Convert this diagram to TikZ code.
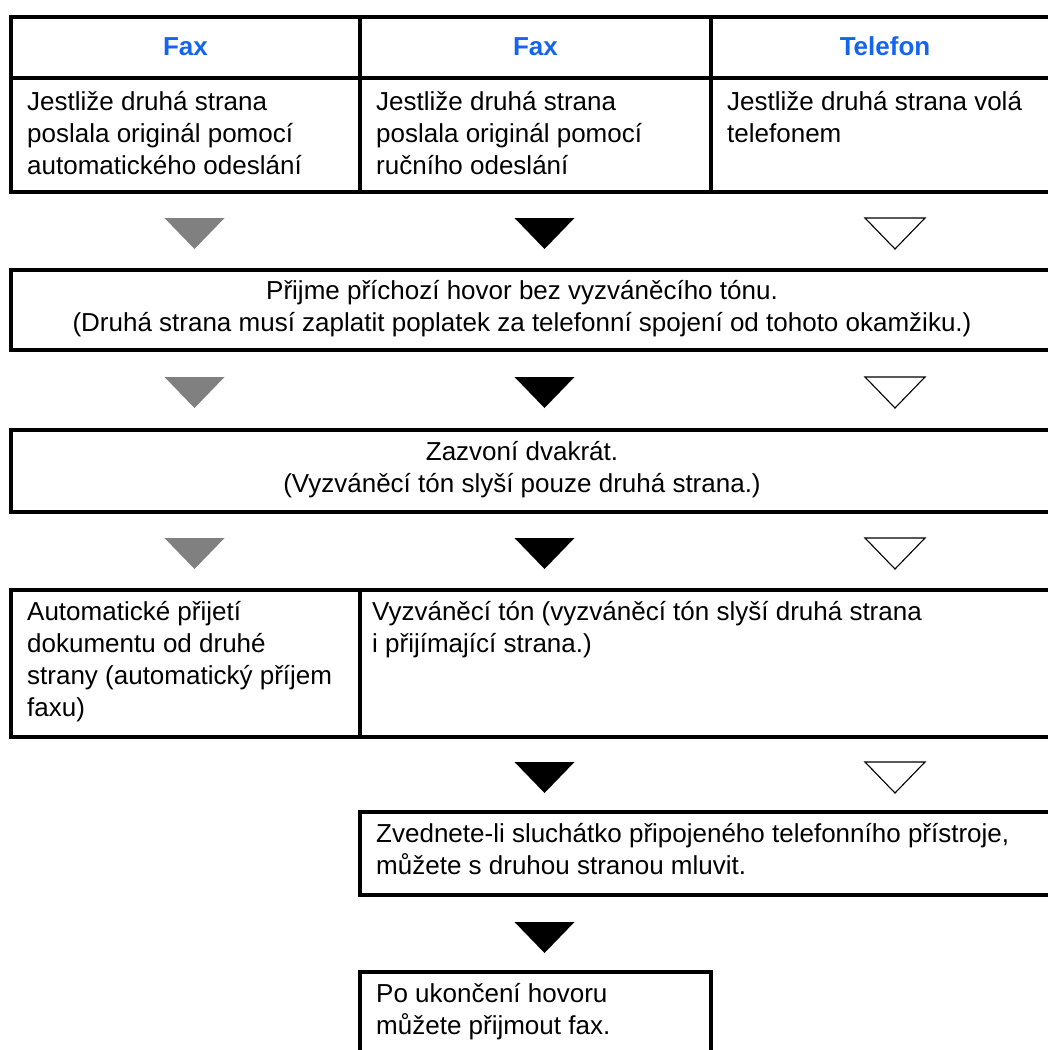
\documentclass[tikz,border=0pt]{standalone}
\usepackage{fontspec}
\setmainfont{Liberation Sans}
\usetikzlibrary{calc}
\definecolor{hdrblue}{RGB}{20,100,240}
\definecolor{trigray}{RGB}{128,128,128}
\newcommand{\myst}{\rule{0pt}{24pt}}
\tikzset{
  frame/.style={draw=black, line width=3.3pt},
  hdr/.style={anchor=base, inner sep=0pt, text=hdrblue, font=\fontsize{26}{32}\selectfont\bfseries},
  txt/.style={anchor=north west, inner sep=0pt, align=left, font=\fontsize{26}{32}\selectfont},
  txtc/.style={anchor=north, inner sep=0pt, align=center, font=\fontsize{26}{32}\selectfont},
  trig/.style={fill=trigray},
  trib/.style={fill=black},
  triw/.style={draw=black, line width=1.1pt, fill=white, line join=miter}
}
\newcommand{\tri}[4]{% style, center x, top y, name
  \coordinate (#4) at (#2,#3);
  \path[#1] ($(#4)+(-30,0)$) -- ($(#4)+(30,0)$) -- ($(#4)+(0,31)$) -- cycle;}
\begin{document}
\begin{tikzpicture}[x=1pt,y=-1pt]
\useasboundingbox (0,0) rectangle (1048,1050);
\clip (0,0) rectangle (1048,1050);
% top table
\draw[frame] (11,17) rectangle (1064,192);
\draw[frame] (11,78) -- (1064,78);
\draw[frame] (360,17) -- (360,192);
\draw[frame] (711,17) -- (711,192);
\node[hdr] (h1) at (185.5,55) {Fax};
\node[hdr] (h2) at (535.5,55) {Fax};
\node[hdr] (h3) at (885,55) {Telefon};
\node[txt] (c1) at (27,86) {\myst Jestliže druhá strana\\poslala originál pomocí\\automatického odeslání};
\node[txt] (c2) at (376,86) {\myst Jestliže druhá strana\\poslala originál pomocí\\ručního odeslání};
\node[txt] (c3) at (727,86) {\myst Jestliže druhá strana volá\\telefonem};
% row 1 triangles
\tri{trig}{194.5}{218}{a1}
\tri{trib}{544.5}{218}{b1}
\tri{triw}{895}{218}{w1}
% box 2
\draw[frame] (11,270) rectangle (1064,350);
\node[txtc] (t2) at (522,275) {\myst Přijme příchozí hovor bez vyzváněcího tónu.\\(Druhá strana musí zaplatit poplatek za telefonní spojení od tohoto okamžiku.)};
% row 2 triangles
\tri{trig}{194.5}{377}{a2}
\tri{trib}{544.5}{377}{b2}
\tri{triw}{895}{377}{w2}
% box 3
\draw[frame] (11,430) rectangle (1064,512);
\node[txtc] (t3) at (522,436) {\myst Zazvoní dvakrát.\\(Vyzváněcí tón slyší pouze druhá strana.)};
% row 3 triangles
\tri{trig}{194.5}{538}{a3}
\tri{trib}{544.5}{538}{b3}
\tri{triw}{895}{538}{w3}
% box 4
\draw[frame] (11,590) rectangle (1064,737);
\draw[frame] (360,590) -- (360,737);
\node[txt] (t4a) at (27,596) {\myst Automatické přijetí\\dokumentu od druhé\\strany (automatický příjem\\faxu)};
\node[txt] (t4b) at (372,596) {\myst Vyzváněcí tón (vyzváněcí tón slyší druhá strana\\i přijímající strana.)};
% row 4 triangles
\tri{trib}{544.5}{762}{b4}
\tri{triw}{895}{762}{w4}
% box 5
\draw[frame] (360,812) rectangle (1064,895);
\node[txt] (t5) at (376,818) {\myst Zvednete-li sluchátko připojeného telefonního přístroje,\\můžete s druhou stranou mluvit.};
% row 5 triangle
\tri{trib}{544.5}{922}{b5}
% box 6
\draw[frame] (360,972) rectangle (711,1080);
\node[txt] (t6) at (376,978) {\myst Po ukončení hovoru\\můžete přijmout fax.};
\end{tikzpicture}
\end{document}
